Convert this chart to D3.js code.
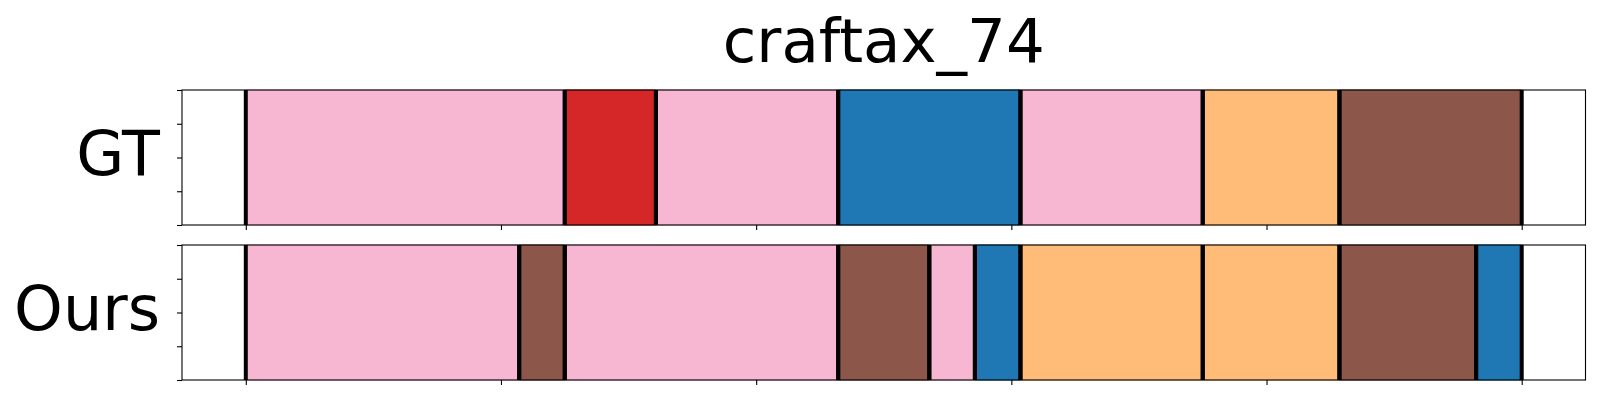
<!DOCTYPE html>
<html>
<head>
<meta charset="utf-8">
<script src="https://cdn.jsdelivr.net/npm/d3@7"></script>
<style>
  html, body { margin: 0; padding: 0; background: #fff; }
  svg { display: block; }
</style>
</head>
<body>
<svg id="chart" width="1600" height="400"></svg>
<script>
// ---- data ----
const title = "craftax_74";
const rowLabels = ["GT", "Ours"];
const classNames = ["pink", "red", "blue", "orange", "brown"];
const classColors = ["#f7b6d2", "#d62728", "#1f77b4", "#ffbb78", "#8c564b"];
const classEdges = ["#e8a3c0", "#c01f20", "#1b6aa3", "#f0a866", "#7d4a40"];

const gtStarts  = [0, 7, 9, 13, 17, 21, 24];
const gtEnds    = [7, 9, 13, 17, 21, 24, 28];
const gtClasses = ["pink", "red", "pink", "blue", "pink", "orange", "brown"];

const oursStarts  = [0, 6, 7, 13, 15, 16, 17, 21, 24, 27];
const oursEnds    = [6, 7, 13, 15, 16, 17, 21, 24, 27, 28];
const oursClasses = ["pink", "brown", "pink", "brown", "pink", "blue", "orange", "orange", "brown", "blue"];

const totalSteps = 28;
const xTicks = [0, 5.6, 11.2, 16.8, 22.4, 28];
const yTicks = [0, 0.25, 0.5, 0.75, 1];

// ---- layout ----
const svg = d3.select("#chart");
const left = 182, right = 1585.5;
const panels = [
  { label: rowLabels[0], top: 90, bottom: 225, starts: gtStarts, ends: gtEnds, classes: gtClasses },
  { label: rowLabels[1], top: 245, bottom: 380, starts: oursStarts, ends: oursEnds, classes: oursClasses }
];
const margin = totalSteps * 0.05;
const x = d3.scaleLinear().domain([-margin, totalSteps + margin]).range([left, right]);
const color = d3.scaleOrdinal().domain(classNames).range(classColors);
const edge = d3.scaleOrdinal().domain(classNames).range(classEdges);
const font = "DejaVu Sans, sans-serif";

svg.append("text")
  .attr("x", (left + right) / 2)
  .attr("y", 61.5)
  .attr("text-anchor", "middle")
  .attr("font-family", font)
  .attr("font-size", 61)
  .attr("fill", "#000")
  .text(title);

panels.forEach(p => {
  const y = d3.scaleLinear().domain([0, 1]).range([p.bottom, p.top]);
  const g = svg.append("g");
  const segs = p.starts.map((s, i) => ({ s, e: p.ends[i], c: p.classes[i] }));

  g.selectAll("rect.seg").data(segs).join("rect")
    .attr("class", "seg")
    .attr("x", d => x(d.s))
    .attr("width", d => x(d.e) - x(d.s))
    .attr("y", y(1))
    .attr("height", y(0) - y(1))
    .attr("fill", d => color(d.c))
    .attr("stroke", d => edge(d.c))
    .attr("stroke-width", 1);

  const bounds = [];
  segs.forEach(d => { bounds.push(d.s); bounds.push(d.e); });
  g.selectAll("line.bnd").data(bounds).join("line")
    .attr("class", "bnd")
    .attr("x1", d => x(d)).attr("x2", d => x(d))
    .attr("y1", y(1)).attr("y2", y(0))
    .attr("stroke", "#000")
    .attr("stroke-width", 4);

  // axes
  const xAxis = d3.axisBottom(x).tickValues(xTicks).tickFormat("").tickSize(5).tickSizeOuter(0);
  const gx = svg.append("g").attr("transform", `translate(0,${p.bottom})`).call(xAxis);
  gx.select(".domain").remove();
  gx.selectAll(".tick line").attr("stroke", "#000").attr("stroke-width", 1.1);

  const yAxis = d3.axisLeft(y).tickValues(yTicks).tickFormat("").tickSize(5).tickSizeOuter(0);
  const gy = svg.append("g").attr("transform", `translate(${left},0)`).call(yAxis);
  gy.select(".domain").remove();
  gy.selectAll(".tick line").attr("stroke", "#000").attr("stroke-width", 1.1);

  svg.append("rect")
    .attr("x", left).attr("y", p.top)
    .attr("width", right - left).attr("height", p.bottom - p.top)
    .attr("fill", "none").attr("stroke", "#000").attr("stroke-width", 1.1);

  svg.append("text")
    .attr("x", 160)
    .attr("y", (p.top + p.bottom) / 2 + 17.5)
    .attr("text-anchor", "end")
    .attr("font-family", font)
    .attr("font-size", 62)
    .attr("fill", "#000")
    .text(p.label);
});
</script>
</body>
</html>
